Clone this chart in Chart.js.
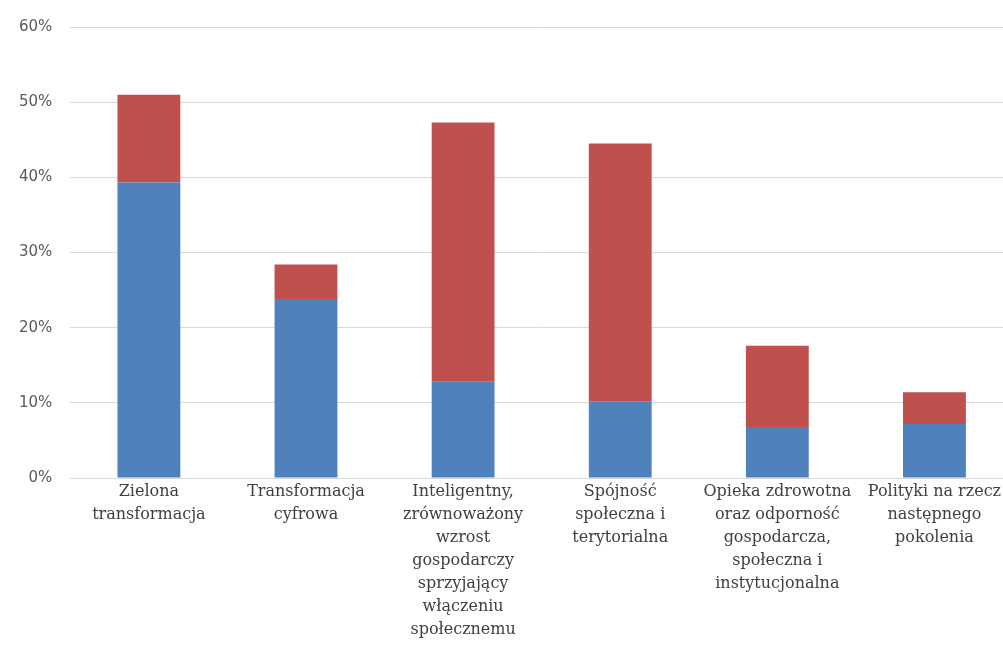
<!DOCTYPE html>
<html lang="pl">
    <head>
        <meta charset="utf-8">
        <title>Wykres</title>
        <style>
            html, body { margin: 0; padding: 0; background: #ffffff; overflow: hidden; }
            #wrap { position: relative; width: 1013px; height: 657px; }
        </style>
        <script src="https://cdn.jsdelivr.net/npm/chart.js@4.4.1/dist/chart.umd.min.js"></script>
    </head>
    <body>
        <div id="wrap">
            <canvas id="myChart"></canvas>
        </div>
<script type="text/javascript">
    // categories (multi-line labels as in the original)
    var categories = [
        ["Zielona", "transformacja"],
        ["Transformacja", "cyfrowa"],
        ["Inteligentny,", "zrównoważony", "wzrost", "gospodarczy", "sprzyjający", "włączeniu", "społecznemu"],
        ["Spójność", "społeczna i", "terytorialna"],
        ["Opieka zdrowotna", "oraz odporność", "gospodarcza,", "społeczna i", "instytucjonalna"],
        ["Polityki na rzecz", "następnego", "pokolenia"]
    ];
    var blueValues = [39.3, 23.8, 12.8, 10.2, 6.8, 7.2];   // lower part
    var redValues  = [11.7, 4.6, 34.5, 34.3, 10.8, 4.2];   // upper part
    var yTicks = [0, 10, 20, 30, 40, 50, 60];

    var ctx = document.getElementById("myChart");
    var myChart = new Chart(ctx, {
        type: 'bar',
        data: {
            labels: categories,
            datasets: [
                { label: 'A', data: blueValues, backgroundColor: '#4f81bd', barPercentage: 0.4, categoryPercentage: 1.0 },
                { label: 'B', data: redValues, backgroundColor: '#c0504d', barPercentage: 0.4, categoryPercentage: 1.0 }
            ]
        },
        options: {
            responsive: true,
            maintainAspectRatio: false,
            animation: false,
            layout: { padding: { top: 16, bottom: 14, left: 1, right: 0 } },
            plugins: { legend: { display: false }, tooltip: { enabled: false } },
            scales: {
                x: {
                    stacked: true,
                    grid: { display: false, drawTicks: false },
                    border: { display: true, color: '#d9d9d9' },
                    ticks: {
                        autoSkip: false, maxRotation: 0, minRotation: 0, padding: 2,
                        color: '#404040',
                        font: { family: 'DejaVu Serif', size: 16, lineHeight: 1.4375 }
                    }
                },
                y: {
                    stacked: true,
                    min: yTicks[0],
                    max: yTicks[yTicks.length - 1],
                    grid: { color: '#d9d9d9', drawTicks: false },
                    border: { display: false },
                    afterBuildTicks: function (axis) { axis.ticks = yTicks.map(function (v) { return { value: v }; }); },
                    ticks: {
                        padding: 18,
                        color: '#595959',
                        font: { family: 'DejaVu Sans', size: 15 },
                        callback: function (v) { return v + '%'; }
                    }
                }
            }
        }
    });
</script>
    </body>
</html>
